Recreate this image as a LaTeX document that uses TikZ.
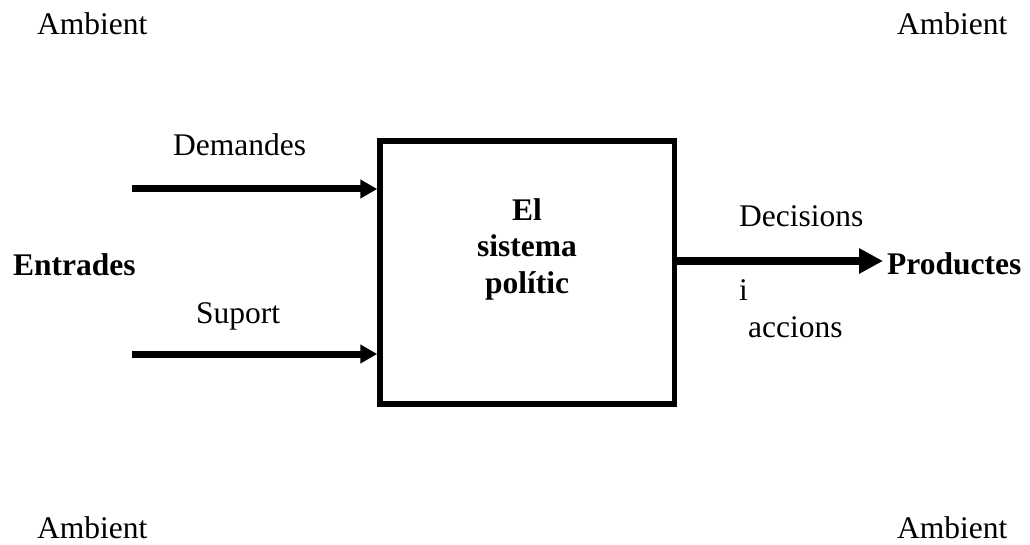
\documentclass[tikz,border=0pt]{standalone}
\usepackage{fontspec}
\setmainfont{Liberation Serif}
\usetikzlibrary{arrows.meta}

\tikzset{
  lbl/.style={anchor=base west, inner sep=0pt, font=\fontsize{31.5}{36.5}\selectfont},
  blbl/.style={lbl, font=\fontsize{31.5}{36.5}\selectfont\bfseries},
  sysbox/.style={draw, line width=5.5pt, minimum width=294.5pt, minimum height=263pt, inner sep=0pt},
  inflow/.style={line width=7pt, -{Triangle[length=17pt,width=18pt]}},
  outflow/.style={line width=8pt, -{Triangle[length=24pt,width=24pt]}}
}

\begin{document}
\begin{tikzpicture}[x=1pt, y=-1pt]
\useasboundingbox (0,0) rectangle (1030,545);

% environment labels in the corners
\node[lbl] (amb1) at (37,35) {Ambient};
\node[lbl] (amb2) at (897,35) {Ambient};
\node[lbl] (amb3) at (37,538) {Ambient};
\node[lbl] (amb4) at (897,538) {Ambient};

% the political system
\node[sysbox] (box) at (527.25,272.5) {};
\node[anchor=base, inner sep=0pt, align=center,
      font=\fontsize{31.5}{36.5}\selectfont\bfseries] (sys) at (527,293)
      {El\\sistema\\polític};

% inputs
\node[blbl] (ent) at (13,276) {Entrades};
\node[lbl] (dem) at (173,156) {Demandes};
\node[lbl] (sup) at (196,323) {Suport};
\coordinate (d0) at (132,189);
\coordinate (s0) at (132,354);
\draw[inflow] (d0) -- (box.west |- d0);
\draw[inflow] (s0) -- (box.west |- s0);

% outputs
\node[blbl] (prod) at (887,274) {Productes};
\node[lbl] (dec) at (739,227) {Decisions};
\node[lbl] (conj) at (739,300) {i};
\node[lbl] (acc) at (748,337) {accions};
\coordinate (p1) at (883,261);
\draw[outflow] (box.east |- p1) -- (p1);
\end{tikzpicture}
\end{document}
